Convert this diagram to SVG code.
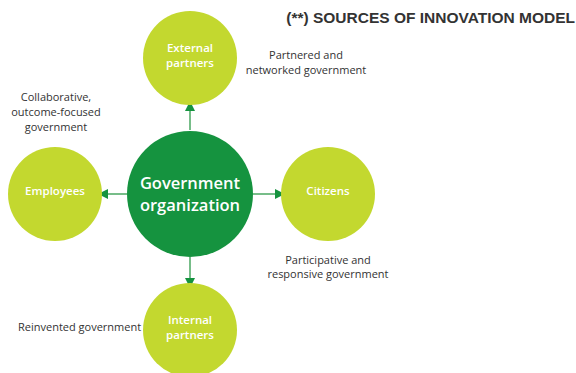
<svg xmlns="http://www.w3.org/2000/svg" width="576" height="373" viewBox="0 0 576 373">
<style>
.sat{fill:#c3d82f}
.core{fill:#15933f}
.nl{font-family:"Open Sans","Noto Sans",sans-serif;fill:#fff;text-anchor:middle;font-weight:600}
.lbl{font-family:"Open Sans","Noto Sans",sans-serif;fill:#333;font-size:11px;text-anchor:middle}
.conn line{stroke:#2e9a4a;stroke-width:1.3}
</style>
<defs>
<marker id="ah" viewBox="0 0 10 10" refX="10" refY="5" markerWidth="10" markerHeight="10" markerUnits="userSpaceOnUse" orient="auto">
<path d="M0,0 L10,5 L0,10 Z" fill="#15933f"/>
</marker>
</defs>
<rect width="576" height="373" fill="#fff"/>
<text x="575" y="23" font-family="Liberation Sans,Arial,sans-serif" font-weight="bold" font-size="15.5" fill="#333" text-anchor="end">(**) SOURCES OF INNOVATION MODEL</text>
<g class="conn">
<line x1="190" y1="130" x2="190" y2="101" marker-end="url(#ah)"/>
<line x1="127" y1="194" x2="98" y2="194" marker-end="url(#ah)"/>
<line x1="253" y1="194" x2="285" y2="194" marker-end="url(#ah)"/>
<line x1="190" y1="257" x2="190" y2="288" marker-end="url(#ah)"/>
</g>
<g id="external">
<circle class="sat" cx="190" cy="58" r="47"/>
<text class="nl" x="190" y="52" font-size="11.5">External</text>
<text class="nl" x="190" y="67" font-size="11.5">partners</text>
</g>
<g id="employees">
<circle class="sat" cx="55" cy="194" r="47"/>
<text class="nl" x="55" y="195" font-size="11.5">Employees</text>
</g>
<g id="citizens">
<circle class="sat" cx="328" cy="194" r="47"/>
<text class="nl" x="328" y="195" font-size="11.5">Citizens</text>
</g>
<g id="internal">
<circle class="sat" cx="190" cy="330" r="47"/>
<text class="nl" x="190" y="324" font-size="11.5">Internal</text>
<text class="nl" x="190" y="339" font-size="11.5">partners</text>
</g>
<g id="core">
<circle class="core" cx="190" cy="194" r="63"/>
<text class="nl" x="190" y="189" font-size="16.5" font-weight="400">Government</text>
<text class="nl" x="190" y="211" font-size="16.5" font-weight="400">organization</text>
</g>
<g id="labels">
<text class="lbl" x="306" y="59">Partnered and</text>
<text class="lbl" x="306" y="74">networked government</text>
<text class="lbl" x="56" y="101">Collaborative,</text>
<text class="lbl" x="56" y="116">outcome-focused</text>
<text class="lbl" x="56" y="131">government</text>
<text class="lbl" x="328" y="264">Participative and</text>
<text class="lbl" x="328" y="278">responsive government</text>
<text class="lbl" x="18" y="331" style="text-anchor:start">Reinvented government</text>
</g>
</svg>
